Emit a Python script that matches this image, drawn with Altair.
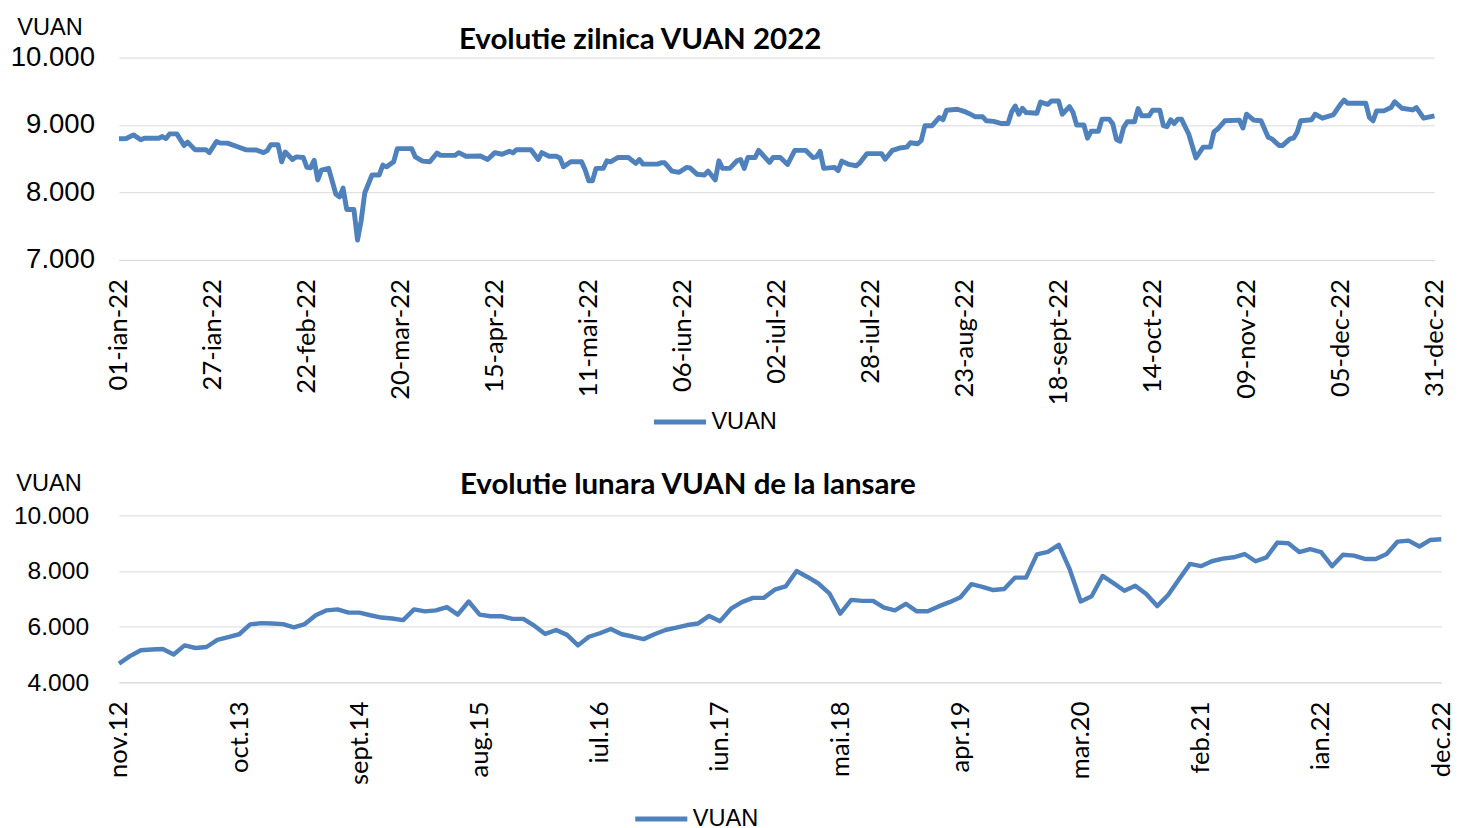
import json
import altair as alt
import pandas as pd

# ---------------- data ----------------
SERIES_NAME = "VUAN"

# daily chart 2022: day of year (0 = 01-ian-22) and VUAN value
DAILY_DAY = [0, 2, 4, 6, 7, 11, 12, 13, 14, 16, 18, 19, 21, 24, 25, 27, 28, 30, 33, 35,
             38, 40, 41, 42, 44, 45, 46, 48, 49, 51, 52, 53, 54, 55, 56, 58, 60, 61, 62, 63,
             65, 66, 67, 68, 70, 72, 73, 74, 76, 77, 81, 82, 84, 86, 88, 89, 93, 94, 96, 100,
             102, 104, 106, 108, 109, 110, 114, 116, 117, 119, 121, 122, 123, 125, 128, 129, 130, 131, 132, 134,
             135, 136, 138, 141, 143, 144, 145, 149, 150, 151, 153, 155, 157, 158, 160, 162, 163, 165, 166, 167,
             169, 171, 172, 173, 174, 176, 177, 178, 180, 181, 183, 185, 187, 190, 192, 193, 194, 195, 198, 199,
             200, 202, 204, 205, 207, 211, 212, 214, 216, 218, 219, 221, 222, 223, 225, 227, 228, 229, 232, 234,
             235, 237, 239, 240, 242, 244, 246, 247, 248, 249, 250, 251, 254, 255, 257, 258, 260, 261, 263, 264,
             265, 267, 268, 269, 271, 272, 274, 275, 276, 277, 278, 279, 281, 282, 283, 285, 286, 288, 289, 290,
             291, 292, 293, 294, 296, 298, 300, 302, 303, 304, 306, 310, 311, 312, 314, 316, 318, 319, 321, 322,
             324, 325, 326, 327, 330, 331, 333, 335, 336, 338, 339, 340, 345, 346, 347, 348, 350, 352, 353, 355,
             358, 359, 361, 364]
DAILY_VUAN = [8796, 8800, 8854, 8781, 8805, 8805, 8830, 8800, 8869, 8869, 8698, 8747, 8635, 8635, 8591, 8757, 8732, 8732, 8674, 8635,
              8630, 8591, 8620, 8708, 8708, 8455, 8601, 8489, 8528, 8518, 8372, 8365, 8479, 8187, 8333, 8358, 7978, 7934, 8066, 7749,
              7749, 7296, 7580, 7993, 8260, 8260, 8406, 8380, 8455, 8650, 8650, 8528, 8465, 8455, 8586, 8550, 8550, 8591, 8538, 8540,
              8489, 8591, 8567, 8611, 8589, 8635, 8635, 8489, 8591, 8538, 8538, 8513, 8382, 8455, 8455, 8333, 8172, 8172, 8358, 8358,
              8470, 8455, 8518, 8518, 8431, 8489, 8421, 8421, 8440, 8440, 8318, 8299, 8372, 8365, 8270, 8260, 8318, 8187, 8470, 8358,
              8358, 8470, 8489, 8358, 8518, 8518, 8625, 8567, 8445, 8518, 8518, 8416, 8625, 8625, 8518, 8528, 8611, 8358, 8372, 8324,
              8465, 8416, 8397, 8440, 8577, 8576, 8493, 8624, 8659, 8673, 8737, 8722, 8771, 8990, 8990, 9112, 9078, 9220, 9234, 9200,
              9176, 9122, 9122, 9063, 9054, 9024, 9024, 9195, 9283, 9161, 9249, 9185, 9176, 9341, 9307, 9356, 9356, 9161, 9273, 9185,
              9000, 9000, 8805, 8907, 8907, 9088, 9088, 9015, 8785, 8761, 8966, 9049, 9049, 9244, 9137, 9137, 9220, 9220, 8990, 8976,
              9078, 9024, 9088, 9088, 8868, 8512, 8673, 8673, 8902, 8941, 9063, 9073, 8956, 9161, 9073, 9063, 8820, 8795, 8698, 8698,
              8795, 8805, 8893, 9063, 9078, 9161, 9102, 9137, 9151, 9307, 9371, 9322, 9322, 9112, 9063, 9210, 9210, 9259, 9346, 9249,
              9224, 9259, 9102, 9137]
DAILY_TICK_LABELS = ["01-ian-22", "27-ian-22", "22-feb-22", "20-mar-22", "15-apr-22", "11-mai-22",
                     "06-iun-22", "02-iul-22", "28-iul-22", "23-aug-22", "18-sept-22", "14-oct-22",
                     "09-nov-22", "05-dec-22", "31-dec-22"]
DAILY_TICK_STEP = 26

# monthly chart nov.12 .. dec.22
MONTHLY_VUAN = [4672, 4942, 5154, 5180, 5200, 5000, 5330, 5236, 5272, 5530,
                5630, 5730, 6083, 6130, 6115, 6095, 5977, 6095, 6412, 6589,
                6624, 6506, 6506, 6412, 6330, 6295, 6236, 6624, 6553, 6589,
                6706, 6436, 6906, 6436, 6377, 6377, 6283, 6283, 6036, 5742,
                5883, 5707, 5330, 5640, 5766, 5918, 5730, 5648, 5554, 5730,
                5883, 5966, 6060, 6118, 6389, 6201, 6648, 6883, 7036, 7036,
                7330, 7447, 8000, 7788, 7553, 7200, 6471, 6965, 6930, 6930,
                6683, 6589, 6824, 6553, 6553, 6730, 6883, 7059, 7530, 7435,
                7318, 7353, 7765, 7765, 8600, 8690, 8941, 8059, 6906, 7094,
                7824, 7565, 7294, 7471, 7177, 6741, 7141, 7706, 8259, 8176,
                8353, 8447, 8494, 8612, 8353, 8494, 9023, 9000, 8682, 8788,
                8682, 8176, 8588, 8553, 8435, 8435, 8612, 9059, 9094, 8882,
                9118, 9141]
MONTHLY_TICK_LABELS = ["nov.12", "oct.13", "sept.14", "aug.15", "iul.16", "iun.17",
                       "mai.18", "apr.19", "mar.20", "feb.21", "ian.22", "dec.22"]
MONTHLY_TICK_STEP = 11

TOP_TITLE = "Evolutie zilnica VUAN 2022"
BOTTOM_TITLE = "Evolutie lunara VUAN de la lansare"

# ---------------- styling ----------------
BLUE = "#4F81BD"
GRID = "#D9D9D9"
NUM_FONT = "Liberation Sans"
CAT_FONT = "Lato"

daily_df = pd.DataFrame({"day": DAILY_DAY, "value": DAILY_VUAN, "series": SERIES_NAME})
monthly_df = pd.DataFrame({"month": list(range(len(MONTHLY_VUAN))), "value": MONTHLY_VUAN,
                           "series": SERIES_NAME})

num_expr = "replace(format(datum.value, ',.0f'), ',', '.')"


def label_expr(labels, step):
    return json.dumps(labels) + "[round(datum.value / %d)]" % step


def make_chart(df, xfield, xmax, tick_labels, step, ydom, yvals, title, title_dx, title_y,
               width, height, ytitle_x, ytitle_y, ylabel_size, ylabel_pad, leg_x, leg_y, stroke_w):
    line = alt.Chart(df).mark_line(strokeWidth=stroke_w, strokeJoin="round").encode(
        x=alt.X(f"{xfield}:Q",
                scale=alt.Scale(domain=[0, xmax], nice=False, zero=False),
                axis=alt.Axis(values=list(range(0, xmax + 1, step)),
                              labelExpr=label_expr(tick_labels, step),
                              labelAngle=-90, title=None, grid=False, ticks=False,
                              domainColor=GRID, domainWidth=1, labelFont=CAT_FONT,
                              labelFontSize=26, labelPadding=19, labelColor="black",
                              labelOverlap=False, labelBound=False, labelFlush=False)),
        y=alt.Y("value:Q",
                scale=alt.Scale(domain=ydom, nice=False, zero=False),
                axis=alt.Axis(values=yvals, labelExpr=num_expr, title="VUAN",
                              titleAngle=0, titleX=ytitle_x, titleY=ytitle_y,
                              titleAlign="left", titleBaseline="alphabetic",
                              titleFont=NUM_FONT, titleFontSize=24, titleFontWeight="normal",
                              titleColor="black", labelFont=NUM_FONT, labelFontSize=ylabel_size,
                              labelColor="black", labelPadding=ylabel_pad, domain=False, ticks=False,
                              gridColor=GRID, gridWidth=1)),
        color=alt.Color("series:N", scale=alt.Scale(range=[BLUE]),
                        legend=alt.Legend(title=None, orient="none", legendX=leg_x, legendY=leg_y,
                                          symbolType="stroke", symbolStrokeWidth=5,
                                          symbolSize=2809, labelFont=NUM_FONT, labelFontSize=24,
                                          labelColor="black", labelOffset=3)),
    )
    head = alt.Chart(pd.DataFrame({"label": [title]})).mark_text(
        align="left", baseline="alphabetic", font=CAT_FONT, fontSize=30,
        fontWeight="bold", color="black"
    ).encode(x=alt.value(title_dx), y=alt.value(title_y), text="label:N")
    return alt.layer(line, head).properties(width=width, height=height)


top = make_chart(daily_df, "day", 364, DAILY_TICK_LABELS, DAILY_TICK_STEP,
                 [7000, 10000], [7000, 8000, 9000, 10000], TOP_TITLE, 346, -9,
                 1339, 206, -104, -24, 28, 25, 542, 342, 5)
bottom = make_chart(monthly_df, "month", 121, MONTHLY_TICK_LABELS, MONTHLY_TICK_STEP,
                    [4000, 10000], [4000, 6000, 8000, 10000], BOTTOM_TITLE, 347, -22,
                    1346, 170, -105, -25, 25, 31, 523, 280, 4.5)

chart = alt.vconcat(top, bottom, spacing=37).resolve_scale(
    color="independent").resolve_legend(color="independent").configure_view(
    stroke=None).properties(
    background="white", padding={"left": 2, "top": 0, "right": 5, "bottom": 5})

chart.save("out.html", embed_options={"renderer": "svg", "actions": False})
